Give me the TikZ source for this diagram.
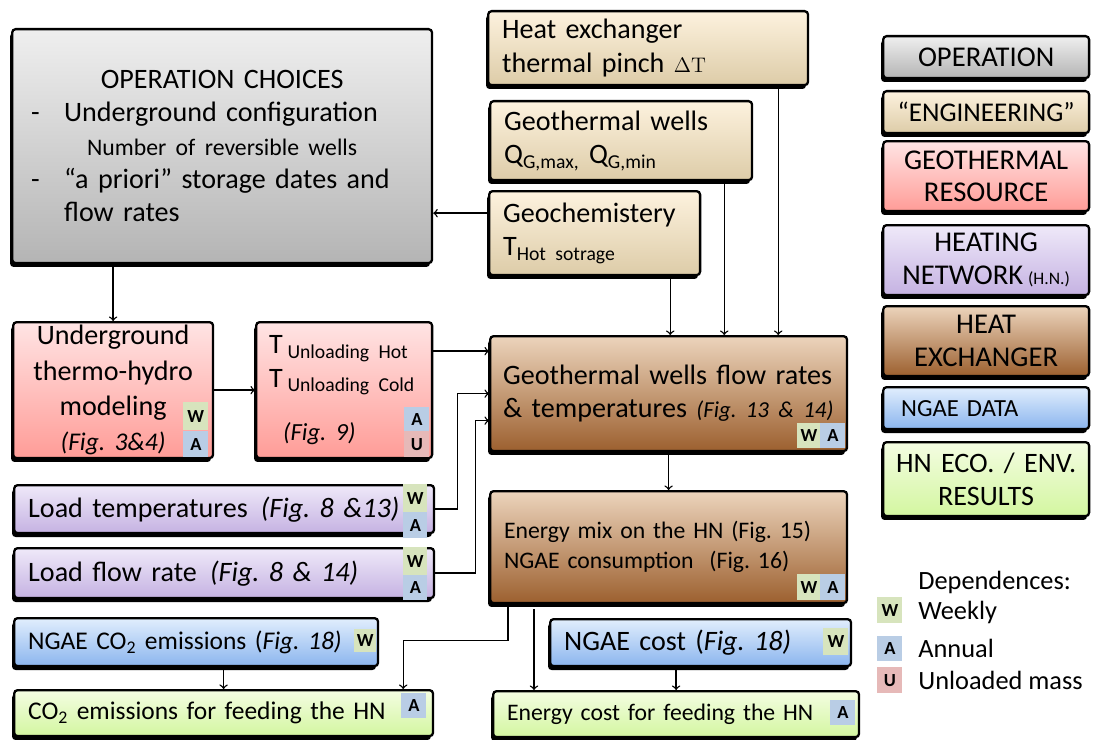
\documentclass[tikz,border=0pt]{standalone}
\usepackage[no-math]{fontspec}
\setmainfont{Carlito}
\usepackage{tikz}
\usetikzlibrary{arrows,shapes,positioning,shadows,calc}
\usepackage{xcolor}
\definecolor{opTop}{HTML}{EFEFEF}\definecolor{opBot}{HTML}{B4B4B4}
\definecolor{engTop}{HTML}{FDF2DE}\definecolor{engBot}{HTML}{DDCCA8}
\definecolor{geoTop}{HTML}{FFE4E4}\definecolor{geoBot}{HTML}{FF9C97}
\definecolor{hnTop}{HTML}{EFE9F9}\definecolor{hnBot}{HTML}{C5B2E2}
\definecolor{hxTop}{HTML}{ECD4BC}\definecolor{hxBot}{HTML}{9C602F}
\definecolor{ngTop}{HTML}{E1EEFD}\definecolor{ngBot}{HTML}{8BB5EE}
\definecolor{resTop}{HTML}{F4FDE2}\definecolor{resBot}{HTML}{D3F6A0}
\definecolor{depW}{HTML}{D7E4BD}\definecolor{depA}{HTML}{B9CDE5}\definecolor{depU}{HTML}{E6B9B8}
\tikzset{
box/.style = {rectangle, draw=black, line width=1.3pt, rounded corners=2pt, anchor=north west, inner ysep=0pt, inner xsep=0.28cm, align=left,
font=\fontsize{16}{19}\selectfont, drop shadow={shadow xshift=-1.2pt, shadow yshift=-2.2pt, fill=black, opacity=1}},% boite
box_op/.style = {box, top color=opTop, bottom color=opBot},% operation
box_eng/.style = {box, top color=engTop, bottom color=engBot},% ingenierie
box_geo/.style = {box, top color=geoTop, bottom color=geoBot},% ressource geothermale
box_hn/.style = {box, top color=hnTop, bottom color=hnBot},% reseau de chaleur
box_hx/.style = {box, top color=hxTop, bottom color=hxBot},% echangeur
box_ngae/.style = {box, top color=ngTop, bottom color=ngBot},% donnees NGAE
box_res/.style = {box, top color=resTop, bottom color=resBot},% resultats
leg/.style = {minimum width=4.12cm, text width=3.9cm, inner xsep=0.11cm, align=center, font=\fontsize{16.3}{18.5}\selectfont},% legende
dep/.style = {rectangle, anchor=north west, inner sep=0pt, minimum width=0.5cm, minimum height=0.52cm, font=\bfseries\fontsize{10.5}{10.5}\selectfont},
dep_w/.style = {dep, fill=depW},% hebdomadaire
dep_a/.style = {dep, fill=depA},% annuel
dep_u/.style = {dep, fill=depU},% masse
dep_txt/.style = {anchor=west, inner sep=0pt, font=\fontsize{15}{18}\selectfont}
}
\begin{document}
\frenchspacing
\begin{tikzpicture}[x=0.02cm, y=-0.02cm, >=to,
  conn/.style={line width=0.8pt}]
\useasboundingbox (0,0) rectangle (1095,740);
% operation et ingenierie
\node[box_op, minimum width=8.4cm, minimum height=4.68cm, inner xsep=0.38cm, text width=7.64cm] (ops) at (11,28)
  {\makebox[\linewidth]{OPERATION CHOICES}\\
   \makebox[0.66cm][l]{-}Underground configuration\\
   {\fontsize{13.5}{19}\selectfont\makebox[\linewidth]{Number of reversible wells}}\\
   \makebox[0.66cm][l]{-}“a priori” storage dates and\\
   \hspace*{0.66cm}flow rates};
\node[box_eng, minimum width=6.4cm, minimum height=1.48cm, text width=5.84cm] (hx) at (487,10)
  {Heat exchanger\\ thermal pinch {\fontsize{12.5}{19}\selectfont$\Delta\mathrm{T}$}};
\node[box_eng, minimum width=5.24cm, minimum height=1.58cm, text width=4.68cm] (gw) at (489,100) {Geothermal wells\\ Q\textsubscript{G,max,} Q\textsubscript{G,min}};
\node[box_eng, minimum width=4.22cm, minimum height=1.68cm, text width=3.66cm] (gc) at (488,190) {Geochemistery\\ T\textsubscript{Hot sotrage}};
% ressource et reseau
\node[box_geo, minimum width=4cm, minimum height=2.72cm, text width=3.44cm, align=center, font=\fontsize{16}{20}\selectfont] (ug) at (12,321)
  {Underground\\ thermo-hydro\\ modeling\\ {\fontsize{14.5}{20}\selectfont\textit{(Fig. 3\&4)}}};
\node[box_geo, minimum width=3.52cm, minimum height=2.72cm, inner xsep=0.26cm, text width=3cm] (tu) at (255,321)
  {T\,\textsubscript{Unloading Hot}\\ T\,\textsubscript{Unloading Cold}\\[0.4cm] \hspace*{0.28cm}{\fontsize{14}{19}\selectfont\textit{(Fig. 9)}}};
\node[box_hn, minimum width=8.4cm, minimum height=0.96cm, text width=7.84cm] (lt) at (13,484) {Load temperatures\hspace{7.5pt}\textit{(Fig. 8 \&13)}};
\node[box_hn, minimum width=8.4cm, minimum height=1cm, text width=7.84cm] (lf) at (13,547) {Load flow rate\hspace{7.5pt}\textit{(Fig. 8 \& 14)}};
% echangeur
\node[box_hx, minimum width=7.14cm, minimum height=2.3cm, inner xsep=0.26cm, text width=6.62cm] (gf) at (489,335)
  {\mbox{Geothermal wells flow rates}\\ \mbox{\& temperatures {\fontsize{13}{19}\selectfont\textit{(Fig. 13 \& 14)}}}};
\node[box_hx, minimum width=7.14cm, minimum height=2.24cm, text width=6.58cm, font=\fontsize{13.5}{17}\selectfont] (em) at (489,490)
  {Energy mix on the HN (Fig. 15)\\ NGAE consumption \ (Fig. 16)};
% NGAE et resultats
\node[box_ngae, minimum width=7.28cm, minimum height=0.96cm, text width=6.72cm, font=\fontsize{14.5}{17}\selectfont] (cn) at (13,617) {NGAE CO\textsubscript{2} emissions (\textit{Fig. 18)}};
\node[box_ngae, minimum width=6.02cm, minimum height=0.94cm, text width=5.46cm] (kn) at (549,618) {NGAE cost (\textit{Fig. 18)}};
\node[box_res, minimum width=8.38cm, minimum height=0.92cm, text width=7.82cm, font=\fontsize{14.5}{17}\selectfont] (ch) at (13,689) {CO\textsubscript{2} emissions for feeding the HN};
\node[box_res, minimum width=7.32cm, minimum height=0.92cm, text width=6.76cm, font=\fontsize{13.5}{17}\selectfont] (kh) at (492,690) {Energy cost for feeding the HN};
% legende
\node[box_op, leg, minimum height=0.84cm] (lop) at (882,35) {OPERATION};
\node[box_eng, leg, minimum height=0.84cm, font=\fontsize{15.4}{18}\selectfont] (len) at (882,90) {“ENGINEERING”};
\node[box_geo, leg, minimum height=1.4cm] (lge) at (882,140) {GEOTHERMAL\\ RESOURCE};
\node[box_hn, leg, minimum height=1.4cm] (lhn) at (882,224) {HEATING\\ NETWORK\,{\fontsize{10}{12}\selectfont(H.N.)}};
\node[box_hx, leg, minimum height=1.4cm] (lhx) at (882,305) {HEAT\\ EXCHANGER};
\node[box_ngae, leg, minimum height=0.84cm, align=left, inner xsep=0.36cm, text width=3.4cm, font=\fontsize{14}{17}\selectfont] (lng) at (882,386) {NGAE DATA};
\node[box_res, leg, minimum height=1.48cm, font=\fontsize{16}{18.5}\selectfont] (lre) at (882,441) {HN ECO. / ENV.\\ RESULTS};
% dependances
\node[dep_w, minimum height=0.56cm] (ugW) at (183,402) {W};
\node[dep_a] (ugA) at (183,431) {A};
\node[dep_a, minimum height=0.48cm] (tuA) at (404,407) {A};
\node[dep_u] (tuU) at (404,431) {U};
\node[dep_w, minimum width=0.48cm, minimum height=0.56cm] (ltW) at (403,484) {W};
\node[dep_a, minimum width=0.48cm] (ltA) at (403,512) {A};
\node[dep_w, minimum width=0.48cm, minimum height=0.56cm] (lfW) at (403,547) {W};
\node[dep_a, minimum width=0.48cm, minimum height=0.5cm] (lfA) at (403,575) {A};
\node[dep_w, minimum width=0.46cm, minimum height=0.5cm] (gfW) at (797,423) {W};
\node[dep_a, minimum height=0.5cm] (gfA) at (820,423) {A};
\node[dep_w, minimum width=0.46cm] (emW) at (797,574) {W};
\node[dep_a] (emA) at (820,574) {A};
\node[dep_w, minimum width=0.44cm, minimum height=0.46cm] (cnW) at (354,629) {W};
\node[dep_a, minimum height=0.5cm] (chA) at (401,693) {A};
\node[dep_w, minimum height=0.54cm] (knW) at (823,628) {W};
\node[dep_a, minimum height=0.5cm] (khA) at (830,700) {A};
\node[dep_txt] (dtitle) at (918,582) {Dependences:};
\node[dep_w] (dW) at (877,597) {W};
\node[dep_a, minimum height=0.5cm] (dA) at (877,636) {A};
\node[dep_u] (dU) at (877,667) {U};
\node[dep_txt] (dweek) at (918,612) {Weekly};
\node[dep_txt] (dann) at (918,648) {Annual};
\node[dep_txt] (dunl) at (918,680) {Unloaded mass};
% liaisons
\draw[conn,->] ($(gc.west)+(0,-20)$) coordinate (g0) -- (g0 -| ops.east);
\draw[conn,->] (ug.north |- ops.south) -- (ug.north);
\draw[conn,->] (ug.east) -- (tu.west);
\draw[conn,->] ($(tu.east)+(0,-39)$) coordinate (t0) -- (t0 -| gf.west);
\draw[conn,->] (lt.east) -- ++(22,0) |- (gf.west);
\draw[conn,->] (lf.east) -- ++(40,0) |- ($(gf.west)+(0,27)$);
\draw[conn,->] ($(hx.south east)+(-31,0)$) coordinate (h0) -- (h0 |- gf.north);
\draw[conn,->] ($(gw.south east)+(-29,0)$) coordinate (w0) -- (w0 |- gf.north);
\draw[conn,->] ($(gc.south east)+(-31,0)$) coordinate (c0) -- (c0 |- gf.north);
\draw[conn,->] (gf.south) -- (em.north);
\draw[conn,->] ($(em.south west)+(19,0)$) -- ++(0,36) -| ($(ch.north east)+(-31,0)$);
\draw[conn,->] ($(em.south west)+(45,5)$) coordinate (e0) -- (e0 |- kh.north);
\draw[conn,->] (ch.north |- cn.south) -- (ch.north);
\draw[conn,->] (kh.north |- kn.south) -- (kh.north);
\end{tikzpicture}
\end{document}
